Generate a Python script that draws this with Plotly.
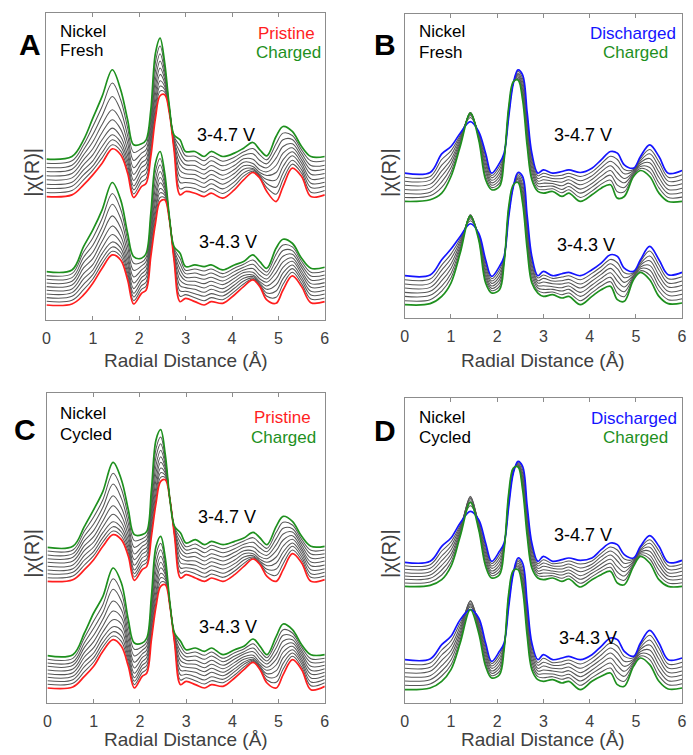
import plotly.graph_objects as go

# Radial distance grid (Å) shared by every spectrum
R = [0, 0.55, 0.8, 1.0, 1.2, 1.42, 1.6, 1.75, 1.88, 2.05, 2.15, 2.25, 2.35, 2.45, 2.55, 2.65, 2.75,
     2.88, 3.0, 3.2, 3.4, 3.55, 3.8, 4.05, 4.25, 4.45, 4.6, 4.75, 4.95, 5.1, 5.3, 5.5, 5.7, 6.0]
R_TICKS = [0, 1, 2, 3, 4, 5, 6]

# ---- Panel A: Nickel, fresh electrode, pristine -> charged (stacked |chi(R)|, a.u.) ----
A47_PRISTINE = [370,375,405,435,470,513,495,440,367,400,410,490,605,672,675,620,510,375,385,380,370,380,365,390,420,442,425,385,355,400,455,430,370,375]
A47_STEPS = [
    [382,388,420,449,486,525,507,452,378,414,424,503,621,686,683,622,515,393,398,394,383,394,379,402,431,446,428,397,377,420,467,440,383,388],
    [395,401,435,462,502,540,520,465,390,428,439,517,638,701,691,624,520,412,412,408,397,408,393,414,441,450,432,409,398,440,479,450,397,401],
    [407,413,450,477,520,555,533,478,402,442,453,532,656,717,700,626,525,430,425,422,410,422,407,427,452,454,436,421,420,460,492,460,410,413],
    [420,426,465,495,540,575,550,493,418,457,468,547,677,736,710,629,530,448,438,436,423,436,421,439,462,460,442,433,442,480,504,470,423,426],
    [432,439,480,513,562,600,572,510,436,471,482,563,699,755,721,631,535,467,452,449,437,449,434,451,473,469,450,444,463,500,516,480,437,439],
    [445,452,495,534,586,630,598,530,456,485,497,580,722,776,732,633,540,485,465,463,450,463,448,463,483,482,463,456,485,520,528,490,450,452],
    [457,464,510,556,612,670,628,552,478,500,511,597,747,798,744,636,545,503,478,477,463,477,462,476,494,498,478,468,507,540,541,500,463,464],
    [470,477,525,580,640,710,660,576,502,514,526,614,773,821,757,638,550,522,492,491,477,491,476,488,504,514,495,480,528,560,553,510,477,477],
]
A47_CHARGED = [482,490,540,605,670,750,690,600,525,528,540,630,800,845,770,640,555,540,505,505,490,505,490,500,515,532,510,492,550,580,565,520,490,490]

A43_PRISTINE = [45,48,75,110,155,195,180,120,48,80,90,190,290,355,360,300,180,55,65,55,45,55,50,75,100,120,100,60,50,90,132,100,52,55]
A43_STEPS = [
    [56,59,91,123,169,206,191,131,58,92,102,202,304,367,366,301,184,71,76,67,58,67,61,85,108,123,103,71,68,107,143,109,63,66],
    [67,71,107,136,183,219,203,142,69,103,114,215,321,381,374,302,189,87,86,79,71,79,72,95,117,126,106,81,87,124,154,119,75,78],
    [78,82,123,150,199,234,216,154,80,115,127,229,337,394,381,303,193,103,97,92,83,92,83,105,125,130,110,92,105,141,165,128,86,89],
    [89,93,139,166,216,256,232,168,94,127,139,243,357,411,390,304,198,119,107,104,96,104,94,115,133,135,115,102,123,158,176,138,98,101],
    [100,105,156,184,236,282,252,183,111,138,151,258,376,427,398,306,202,136,118,116,109,116,106,125,142,143,123,113,142,174,186,147,109,112],
    [111,116,172,203,257,312,276,200,129,150,163,274,398,445,408,307,207,152,128,128,122,128,117,135,150,154,134,123,160,191,197,157,120,124],
    [122,127,188,224,279,347,304,220,149,162,176,290,421,465,418,308,211,168,139,141,134,141,128,145,158,167,147,134,178,208,208,166,132,135],
    [133,139,204,246,304,379,332,240,170,173,188,306,445,484,429,309,216,184,149,153,147,153,139,155,167,180,160,144,197,225,219,176,143,147],
]
A43_CHARGED = [145,150,220,270,330,412,360,260,190,185,200,320,470,505,440,310,220,200,160,165,160,165,150,165,175,195,175,155,215,242,230,185,155,158]

# ---- Panel B: Nickel, fresh electrode, discharged -> charged ----
B47_DISCHARGED = [435,437,493,515,555,590,560,495,435,465,495,605,705,745,730,615,495,435,445,435,440,445,437,450,475,500,495,460,450,485,520,485,435,443]
B47_STEPS = [
    [423,425,476,502,549,602,556,484,428,455,492,609,706,741,719,601,484,427,435,427,429,435,425,439,463,486,476,446,446,479,506,469,423,430],
    [411,414,459,489,544,608,553,472,421,445,489,614,706,736,709,586,472,419,425,419,419,425,412,427,451,471,456,433,443,473,493,454,411,416],
    [399,402,442,476,538,612,549,461,414,435,486,618,707,732,698,572,461,411,415,411,408,415,400,416,439,457,437,419,439,467,479,438,399,403],
    [386,390,426,464,532,615,546,449,406,425,484,622,708,728,687,558,449,404,405,404,397,405,387,404,426,443,418,406,436,461,466,422,386,390],
    [374,378,409,451,526,617,542,438,399,415,481,626,709,724,676,544,438,396,395,396,386,395,375,393,414,429,399,392,432,455,452,406,374,377],
    [362,367,392,438,521,617,539,426,392,405,478,631,709,719,666,529,426,388,385,388,376,385,362,381,402,414,379,379,429,449,439,391,362,363],
]
B47_CHARGED = [350,355,375,425,515,615,535,415,385,395,475,635,710,715,655,515,415,380,375,380,365,375,350,370,390,400,360,365,425,443,425,375,350,350]

B43_DISCHARGED = [127,129,175,207,245,283,255,175,125,155,185,305,395,437,425,305,185,127,140,127,133,137,127,145,165,190,185,150,140,175,215,175,130,137]
B43_STEPS = [
    [115,117,159,192,238,292,252,165,118,145,182,309,396,433,414,291,174,120,129,119,123,127,115,134,154,176,166,136,136,170,201,159,118,124],
    [102,104,144,178,231,298,249,155,111,135,179,314,396,428,402,276,162,112,119,111,112,116,102,122,142,163,148,121,133,164,186,144,105,111],
    [90,92,128,163,224,302,246,145,104,125,176,318,397,424,391,262,151,105,108,103,102,106,90,111,131,149,129,107,129,159,172,128,93,98],
    [77,80,112,149,216,306,244,135,96,115,174,322,398,420,379,248,139,97,97,94,91,96,77,99,119,136,111,93,126,153,158,112,80,84],
    [65,68,96,134,209,309,241,125,89,105,171,326,399,416,368,234,128,90,86,86,81,86,65,88,108,122,92,79,122,148,144,96,68,71],
    [52,55,81,120,202,310,238,115,82,95,168,331,399,411,356,219,116,82,76,78,70,75,52,76,96,109,74,64,119,142,129,81,55,58],
]
B43_CHARGED = [40,43,65,105,195,307,235,105,75,85,165,335,400,407,345,205,105,75,65,70,60,65,40,65,85,95,55,50,115,137,115,65,43,45]

# ---- Panel C: Nickel, cycled electrode, pristine -> charged ----
C47_PRISTINE = [365,370,400,430,470,505,490,440,368,400,410,500,600,665,670,610,500,375,385,375,365,375,365,385,410,432,415,380,365,400,448,420,365,370]
C47_STEPS = [
    [376,381,414,442,483,516,501,451,378,412,422,516,615,677,676,610,503,390,396,388,377,387,377,396,419,435,418,391,383,418,459,429,377,381],
    [388,392,429,454,496,529,513,462,388,423,433,531,632,691,683,610,507,405,406,401,389,399,389,407,429,438,421,401,402,436,470,438,388,392],
    [399,403,443,468,511,544,526,474,399,435,445,547,649,705,690,610,510,420,417,413,402,412,402,418,438,442,425,412,420,453,480,447,400,403],
    [410,414,458,483,528,566,542,488,413,447,457,562,670,722,698,610,513,435,427,426,414,424,414,429,448,448,431,422,438,471,491,456,412,414],
    [422,426,472,499,546,592,562,503,430,458,468,578,691,739,706,610,517,450,438,439,426,436,426,441,457,456,439,433,457,489,502,464,423,426],
    [433,437,487,517,566,622,586,520,447,470,480,593,714,758,715,610,520,465,448,452,438,448,438,452,467,468,451,443,475,507,513,473,435,437],
    [444,448,501,537,587,657,614,539,467,482,492,609,739,778,725,610,523,480,459,464,451,461,451,463,476,482,465,454,493,524,523,482,447,448],
    [456,459,516,558,610,689,642,559,487,493,503,624,763,798,735,610,527,495,469,477,463,473,463,474,486,496,479,464,512,542,534,491,458,459],
]
C47_CHARGED = [467,470,530,580,635,722,670,580,505,505,515,640,790,820,745,610,530,510,480,490,475,485,475,485,495,512,495,475,530,560,545,500,470,470]

C43_PRISTINE = [45,48,80,110,155,190,170,110,45,80,90,190,290,350,355,290,180,55,65,55,45,55,50,75,100,122,100,60,45,85,130,100,40,50]
C43_STEPS = [
    [56,59,94,123,168,201,185,121,55,91,102,204,304,362,361,291,183,69,76,67,57,67,61,84,108,125,103,69,62,102,140,108,52,61],
    [67,70,109,136,181,214,200,132,65,102,113,219,321,376,369,292,187,84,86,79,69,79,71,94,116,128,106,79,79,119,150,117,63,71],
    [77,80,123,150,196,229,218,144,76,113,125,233,337,389,376,293,190,98,97,92,82,92,82,103,123,131,109,88,97,136,160,125,75,82],
    [88,91,138,166,213,250,237,158,89,124,137,248,357,406,385,294,193,113,107,104,94,104,92,113,131,136,114,98,114,153,170,133,87,92],
    [99,102,152,184,231,276,257,173,105,136,148,262,376,422,393,296,197,127,118,116,106,116,103,122,139,143,121,107,131,169,180,142,98,103],
    [110,113,167,203,251,306,280,190,122,147,160,277,398,440,403,297,200,142,128,128,118,128,113,132,147,154,132,117,148,186,190,150,110,113],
    [120,123,181,224,272,341,305,209,141,158,172,291,421,460,413,298,203,156,139,141,131,141,124,141,154,165,143,126,166,203,200,158,122,124],
    [131,134,196,246,295,373,332,229,161,169,183,306,445,479,424,299,207,171,149,153,143,153,134,151,162,178,156,136,183,220,210,167,133,134],
]
C43_CHARGED = [142,145,210,270,320,405,360,250,180,180,195,320,470,500,435,300,210,185,160,165,155,165,145,160,170,192,170,145,200,237,220,175,145,145]

# ---- Panel D: Nickel, cycled electrode, discharged -> charged ----
D47_DISCHARGED = [422,425,470,495,540,575,550,480,425,455,480,590,690,725,710,590,480,425,440,425,430,435,428,435,460,480,475,445,435,470,502,470,422,428]
D47_STEPS = [
    [412,415,456,483,534,592,546,470,418,445,477,596,692,723,700,577,469,418,430,418,421,426,417,426,449,468,459,432,431,466,490,456,412,417],
    [401,404,441,471,529,604,541,460,411,435,474,601,694,720,690,564,459,411,420,411,411,417,405,416,439,456,442,419,428,461,479,441,401,406],
    [391,394,427,459,523,614,537,450,404,425,471,607,696,718,680,551,448,404,410,404,402,408,394,407,428,444,426,406,424,457,467,427,391,395],
    [381,384,413,446,517,620,533,440,396,415,469,613,699,715,670,539,437,396,400,396,393,399,382,398,417,431,409,394,421,453,455,413,381,383],
    [371,374,399,434,511,618,529,430,389,405,466,619,701,713,660,526,426,389,390,389,384,390,371,389,406,419,393,381,417,449,443,399,371,372],
    [360,363,384,422,506,610,524,420,382,395,463,624,703,710,650,513,416,382,380,382,374,381,359,379,396,407,376,368,414,444,432,384,360,361],
]
D47_CHARGED = [350,353,370,410,500,602,520,410,375,385,460,630,705,708,640,500,405,375,370,375,365,372,348,370,385,395,360,355,410,440,420,370,350,350]

D43_DISCHARGED = [130,132,175,200,250,280,255,180,125,155,180,290,390,435,420,300,180,130,145,130,135,140,130,145,170,195,190,155,140,180,218,180,130,135]
D43_STEPS = [
    [117,120,159,186,240,288,249,170,118,145,177,296,391,430,409,286,169,121,134,121,124,129,117,134,157,180,171,140,136,174,203,164,117,122],
    [104,107,144,171,230,296,242,160,111,135,174,301,392,425,397,271,157,113,122,113,114,119,104,122,144,165,151,125,131,167,189,147,105,109],
    [91,95,128,157,220,305,236,150,104,125,171,307,393,420,386,257,146,104,111,104,103,108,91,111,131,150,132,110,127,161,174,131,92,96],
    [79,82,112,143,210,307,229,140,96,115,169,313,395,415,374,243,134,96,99,96,92,97,79,99,119,135,113,95,123,154,159,114,80,84],
    [66,70,96,129,200,300,223,130,89,105,166,319,396,410,363,229,123,87,88,87,81,86,66,88,106,120,94,80,119,148,144,98,67,71],
    [53,57,81,114,190,292,216,120,82,95,163,324,397,405,351,214,111,79,76,79,71,76,53,76,93,105,74,65,114,141,130,81,55,58],
]
D43_CHARGED = [40,45,65,100,180,280,210,110,75,85,160,330,398,400,340,200,100,70,65,70,60,65,40,65,80,90,55,50,110,135,115,65,42,45]

RED = "#ff1e1e"
GREEN = "#1e901e"
BLUE = "#1414ff"
GRAY = "#575757"
FRAME = "#8c8c8c"
TEXT = "#404040"
FONT = "Liberation Sans, Arial, sans-serif"

W, H = 693, 755


def px(x, y):
    """Pixel position in the page -> paper coordinates."""
    return x / W, 1 - y / H


panels = [
    dict(ax="", dom=((43, 325), (13, 320)), ymax=920, start=RED,
         groups=[(A47_PRISTINE, A47_STEPS, A47_CHARGED), (A43_PRISTINE, A43_STEPS, A43_CHARGED)]),
    dict(ax="2", dom=((406, 687), (14, 318)), ymax=913, start=BLUE,
         groups=[(B47_DISCHARGED, B47_STEPS, B47_CHARGED), (B43_DISCHARGED, B43_STEPS, B43_CHARGED)]),
    dict(ax="3", dom=((44, 325), (393, 703)), ymax=930, start=RED,
         groups=[(C47_PRISTINE, C47_STEPS, C47_CHARGED), (C43_PRISTINE, C43_STEPS, C43_CHARGED)]),
    dict(ax="4", dom=((406, 687), (398, 703)), ymax=915, start=BLUE,
         groups=[(D47_DISCHARGED, D47_STEPS, D47_CHARGED), (D43_DISCHARGED, D43_STEPS, D43_CHARGED)]),
]

fig = go.Figure()
layout = {}
for p in panels:
    (x0, x1), (y0, y1) = p["dom"]
    xa, ya = "xaxis" + p["ax"], "yaxis" + p["ax"]
    xr, yr = "x" + p["ax"], "y" + p["ax"]
    layout[xa] = dict(domain=[x0 / W, x1 / W], range=[0, 6], tickvals=R_TICKS,
                      ticks="inside", ticklen=4, tickcolor=FRAME, showline=True, linecolor=FRAME,
                      linewidth=1.3, mirror="ticks", showgrid=False, zeroline=False, anchor=yr,
                      ticklabelstandoff=4,
                      tickfont=dict(family=FONT, size=16, color=TEXT), fixedrange=True)
    layout[ya] = dict(domain=[1 - y1 / H, 1 - y0 / H], range=[0, p["ymax"]], showticklabels=False,
                      ticks="", showline=True, linecolor=FRAME, linewidth=1.3, mirror=True,
                      showgrid=False, zeroline=False, anchor=xr, fixedrange=True)
    for start, steps, charged in p["groups"]:
        for s in steps:
            fig.add_trace(go.Scatter(x=R, y=s, mode="lines", xaxis=xr, yaxis=yr,
                                     line=dict(color=GRAY, width=1.05, shape="spline", smoothing=1.0),
                                     hoverinfo="skip"))
        fig.add_trace(go.Scatter(x=R, y=start, mode="lines", xaxis=xr, yaxis=yr,
                                 line=dict(color=p["start"], width=1.7, shape="spline", smoothing=1.0)))
        fig.add_trace(go.Scatter(x=R, y=charged, mode="lines", xaxis=xr, yaxis=yr,
                                 line=dict(color=GREEN, width=1.7, shape="spline", smoothing=1.0)))


def note(x, y, text, size=17, color="black", xanchor="center", bold=False, angle=0):
    xp, yp = px(x, y)
    if bold:
        text = "<b>" + text + "</b>"
    return dict(x=xp, y=yp, xref="paper", yref="paper", text=text, showarrow=False,
                xanchor=xanchor, yanchor="middle", textangle=angle,
                font=dict(family=FONT, size=size, color=color))


ann = []
# panel letters
for letter, x, y in [("A", 26, 45), ("B", 386, 45), ("C", 21, 429), ("D", 386, 431)]:
    ann.append(note(x, y, letter, size=30, bold=True))
# sample labels
for x, y1, y2, second in [(55, 31, 51, "Fresh"), (418, 32, 52, "Fresh"),
                          (55, 413, 434, "Cycled"), (418, 417, 437, "Cycled")]:
    ann.append(note(x, y1, "Nickel", xanchor="left"))
    ann.append(note(x, y2, second, xanchor="left"))
# state legends
ann += [note(286, 33, "Pristine", color=RED), note(288, 52, "Charged", color=GREEN),
        note(637, 33, "Discharged", color=BLUE), note(640, 52, "Charged", color=GREEN),
        note(282, 417, "Pristine", color=RED), note(283, 437, "Charged", color=GREEN),
        note(638, 418, "Discharged", color=BLUE), note(640, 437, "Charged", color=GREEN)]
# voltage windows
ann += [note(225, 135, "3-4.7 V", size=18), note(227, 242, "3-4.3 V", size=18),
        note(587, 135, "3-4.7 V", size=18), note(590, 245, "3-4.3 V", size=18),
        note(226, 517, "3-4.7 V", size=18), note(227, 627, "3-4.3 V", size=18),
        note(587, 535, "3-4.7 V", size=18), note(592, 638, "3-4.3 V", size=18)]
# axis titles
for x, y in [(184, 360), (546, 360), (184, 739), (546, 739)]:
    ann.append(note(x, y, "Radial Distance (Å)", size=19, color=TEXT))
for x, y in [(28, 172), (390, 172), (28, 553), (390, 553)]:
    ann.append(note(x, y, "|χ(R)|", size=20, color=TEXT, angle=-90))

fig.update_layout(**layout)
fig.update_layout(width=W, height=H, margin=dict(l=0, r=0, t=0, b=0),
                  paper_bgcolor="white", plot_bgcolor="white", showlegend=False,
                  annotations=ann)
fig.write_html("out.html")
